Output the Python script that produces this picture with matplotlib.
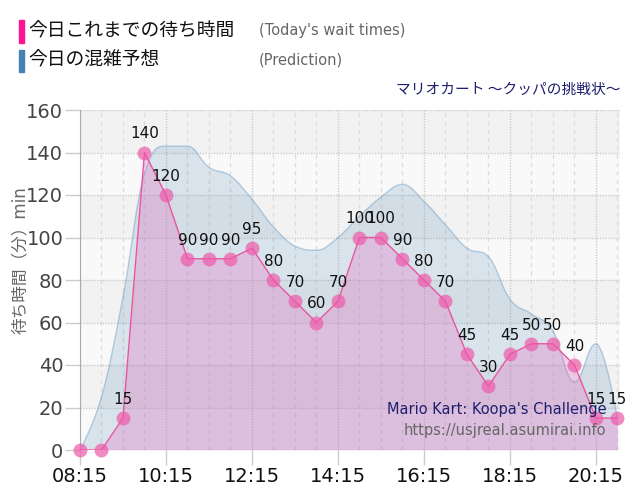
import matplotlib
matplotlib.use("Agg")
import matplotlib.pyplot as plt
from matplotlib.path import Path
from matplotlib.patches import PathPatch, Rectangle

plt.rcParams['font.family'] = ['DejaVu Sans', 'Noto Sans CJK JP']

# data (one value every 30 minutes)
times = ["08:15", "08:45", "09:15", "09:45", "10:15", "10:45", "11:15", "11:45",
         "12:15", "12:45", "13:15", "13:45", "14:15", "14:45", "15:15", "15:45",
         "16:15", "16:45", "17:15", "17:45", "18:15", "18:45", "19:15", "19:45",
         "20:15", "20:45"]
wait_today = [0, 0, 15, 140, 120, 90, 90, 90, 95, 80, 70, 60, 70, 100, 100, 90,
              80, 70, 45, 30, 45, 50, 50, 40, 15, 15]
prediction = [0, 25, 72, 130, 143, 143, 133, 129, 118, 105, 96, 94, 100, 110, 119, 125,
              117, 106, 95, 91, 71, 64, 56, 32, 50, 15]
tick_labels = ["08:15", "10:15", "12:15", "14:15", "16:15", "18:15", "20:15"]
y_ticks = [0, 20, 40, 60, 80, 100, 120, 140, 160]


def to_hours(t):
    h, m = t.split(":")
    return int(h) + int(m) / 60


def spline_path(xs, ys):
    # smooth curve through the points, same idea as a highcharts spline
    n = len(xs)
    left = [(xs[0], ys[0])] * n
    right = [(xs[0], ys[0])] * n
    for i in range(n):
        if i == 0 or i == n - 1:
            left[i] = right[i] = (xs[i], ys[i])
            continue
        lx = (1.5 * xs[i] + xs[i - 1]) / 2.5
        ly = (1.5 * ys[i] + ys[i - 1]) / 2.5
        rx = (1.5 * xs[i] + xs[i + 1]) / 2.5
        ry = (1.5 * ys[i] + ys[i + 1]) / 2.5
        corr = (ry - ly) * (rx - xs[i]) / (rx - lx) + ys[i] - ry
        ly += corr
        ry += corr
        if ly > ys[i - 1] and ly > ys[i]:
            ly = max(ys[i - 1], ys[i])
            ry = 2 * ys[i] - ly
        elif ly < ys[i - 1] and ly < ys[i]:
            ly = min(ys[i - 1], ys[i])
            ry = 2 * ys[i] - ly
        if ry > ys[i + 1] and ry > ys[i]:
            ry = max(ys[i + 1], ys[i])
            ly = 2 * ys[i] - ry
        elif ry < ys[i + 1] and ry < ys[i]:
            ry = min(ys[i + 1], ys[i])
            ly = 2 * ys[i] - ry
        left[i] = (lx, ly)
        right[i] = (rx, ry)
    verts = [(xs[0], ys[0])]
    codes = [Path.MOVETO]
    for i in range(1, n):
        verts += [right[i - 1], left[i], (xs[i], ys[i])]
        codes += [Path.CURVE4] * 3
    return verts, codes


x = [to_hours(t) for t in times]
xt = [to_hours(t) for t in tick_labels]

fig = plt.figure(figsize=(6.4, 5), dpi=100)
ax = fig.add_axes([80 / 640, 50 / 500, 540 / 640, 340 / 500])
ax.set_facecolor('#f9f9f9')
for lo in range(20, 160, 40):
    ax.axhspan(lo, lo + 20, color='#f2f2f2', zorder=0, lw=0)

ax.set_xlim(8.25, 20.81)
ax.set_ylim(0, 160)
ax.set_xticks(xt)
ax.set_xticklabels(tick_labels)
ax.set_xticks([to_hours(t) for t in times], minor=True)
ax.set_yticks(y_ticks)
ax.grid(axis='y', color='#cccccc', ls=(0, (1, 1)), lw=1)
ax.grid(axis='x', which='major', color='#cccccc', ls=(0, (1, 1)), lw=1)
ax.grid(axis='x', which='minor', color='#dddddd', ls=(0, (3, 3)), lw=1)
ax.set_axisbelow(True)
ax.tick_params(axis='both', which='major', length=11, width=1, color='#cccccc',
               labelsize=14, pad=1)
ax.tick_params(axis='x', which='minor', length=0)
ax.tick_params(axis='y', labelcolor='#444444')
ax.tick_params(axis='x', labelcolor='#111111')
for s in ['top', 'right', 'bottom']:
    ax.spines[s].set_visible(False)
ax.spines['left'].set_color('#aaaaaa')

# prediction area (smooth)
verts, codes = spline_path(x, prediction)
area_verts = verts + [(x[-1], 0), (x[0], 0), (x[0], 0)]
area_codes = codes + [Path.LINETO, Path.LINETO, Path.CLOSEPOLY]
ax.add_patch(PathPatch(Path(area_verts, area_codes), facecolor='#4682b4', alpha=0.18,
                       lw=0, zorder=2))
ax.add_patch(PathPatch(Path(verts, codes), facecolor='none', edgecolor='#4682b4',
                       alpha=0.35, lw=1, zorder=2))

# today's wait times
ax.fill_between(x, wait_today, color='#e66ebe', alpha=0.3, lw=0, zorder=3)
ax.plot(x, wait_today, color='#e8559f', lw=1, zorder=4)
ax.plot(x, wait_today, 'o', color='#ee5aaa', alpha=0.7, ms=10, mew=0,
        zorder=5, clip_on=False)
for xi, v in zip(x, wait_today):
    if v == 0:
        continue
    ax.annotate(str(v), (xi, v), xytext=(0, 8), textcoords='offset points',
                ha='center', va='bottom', fontsize=11, color='#111111', zorder=6)

ax.text(0.975, 0.118, "Mario Kart: Koopa's Challenge", transform=ax.transAxes,
        ha='right', va='center', fontsize=10.5, color='#1f1f6e', zorder=7)
ax.text(0.975, 0.057, "https://usjreal.asumirai.info", transform=ax.transAxes,
        ha='right', va='center', fontsize=10.5, color='#666666', zorder=7)

# header legend
fig.patches.append(Rectangle((19 / 640, 1 - 43 / 500), 5 / 640, 23 / 500,
                             transform=fig.transFigure, color='#ff1493'))
fig.patches.append(Rectangle((19 / 640, 1 - 72 / 500), 5 / 640, 22 / 500,
                             transform=fig.transFigure, color='#4682b4'))
fig.text(28 / 640, 1 - 31 / 500, "今日これまでの待ち時間", ha='left', va='center',
         fontsize=13.5, color='#111111', family=['Noto Sans CJK JP'])
fig.text(28 / 640, 1 - 60 / 500, "今日の混雑予想", ha='left', va='center',
         fontsize=13.5, color='#111111', family=['Noto Sans CJK JP'])
fig.text(259 / 640, 1 - 31 / 500, "(Today's wait times)", ha='left', va='center',
         fontsize=10.5, color='#666666')
fig.text(259 / 640, 1 - 60 / 500, "(Prediction)", ha='left', va='center',
         fontsize=10.5, color='#666666')
fig.text(620 / 640, 1 - 90 / 500, "マリオカート ～クッパの挑戦状～", ha='right',
         va='center', fontsize=10.6, color='#1f1f6e', family=['Noto Sans CJK JP'])
fig.text(20 / 640, 1 - 260 / 500, "待ち時間（分）min", rotation=90, ha='center',
         va='center', fontsize=12, color='#666666')

fig.savefig("out.png", dpi=100)
